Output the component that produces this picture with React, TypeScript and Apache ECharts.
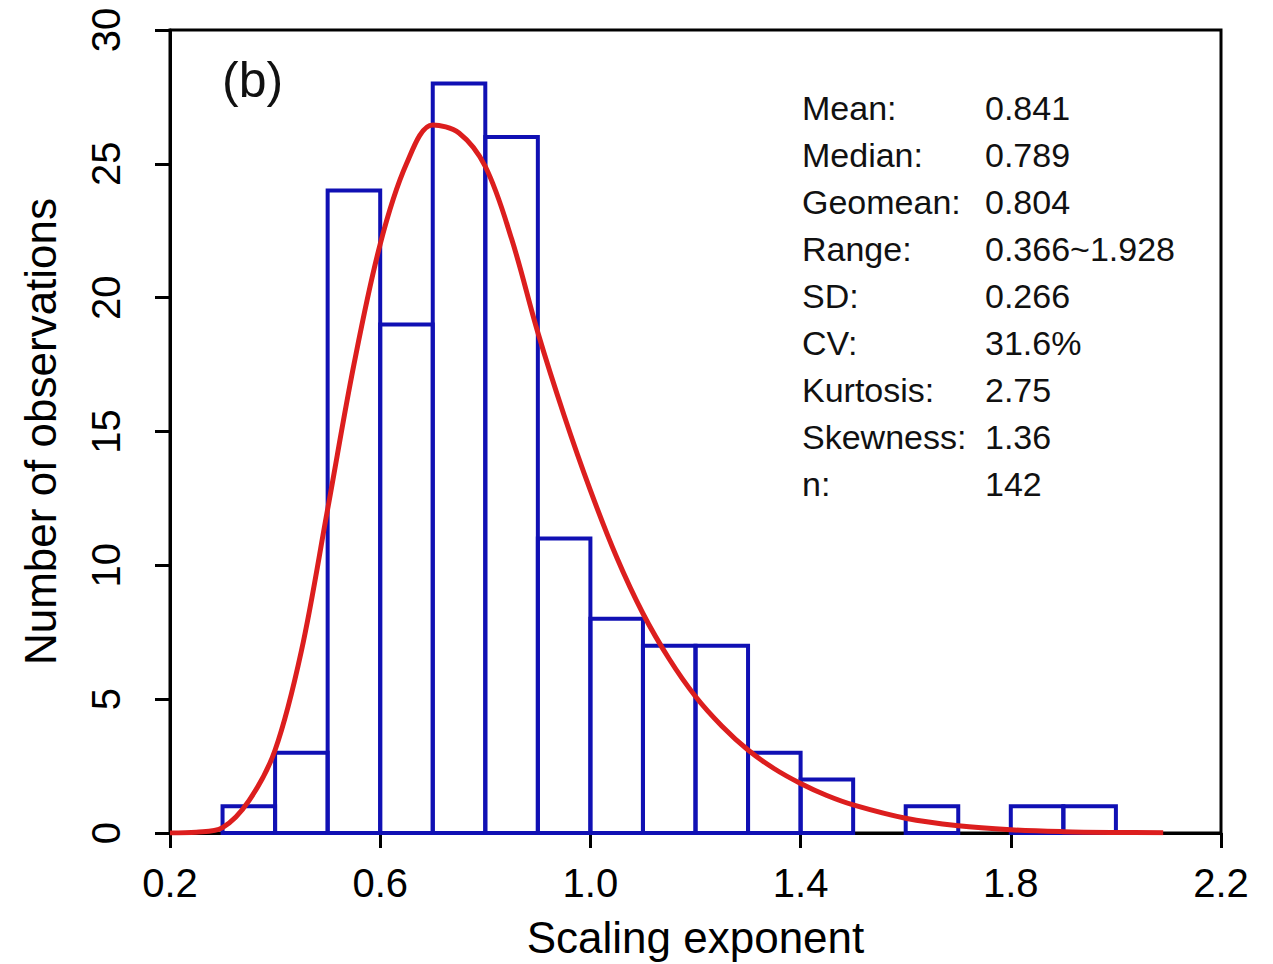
import React, { useEffect, useRef } from "react";
import * as echarts from "echarts";

// Histogram bins (lower edges), width 0.1
const binLower = [0.3, 0.4, 0.5, 0.6, 0.7, 0.8, 0.9, 1.0, 1.1, 1.2, 1.3, 1.4, 1.5, 1.6, 1.7, 1.8, 1.9];
const binWidth = 0.1;
const binCounts = [1, 3, 24, 19, 28, 26, 11, 8, 7, 7, 3, 2, 0, 1, 0, 1, 1];

// Fitted density curve
const curveX = [0.2, 0.25, 0.3, 0.35, 0.4, 0.45, 0.5, 0.55, 0.6, 0.65, 0.7, 0.75, 0.8, 0.85, 0.9, 0.95, 1.0, 1.05, 1.1, 1.15, 1.2, 1.25, 1.3, 1.35, 1.4, 1.45, 1.5, 1.6, 1.7, 1.8, 1.9, 2.0, 2.09];
const curveY = [0.0, 0.03, 0.2, 1.2, 3.1, 6.8, 12.1, 17.5, 22.0, 25.0, 26.45, 26.15, 24.9, 22.2, 18.7, 15.6, 12.8, 10.3, 8.2, 6.5, 5.1, 4.0, 3.1, 2.4, 1.85, 1.4, 1.05, 0.55, 0.27, 0.12, 0.05, 0.02, 0.01];

const xTickValues = [0.2, 0.6, 1.0, 1.4, 1.8, 2.2];

const statLabels = ["Mean:", "Median:", "Geomean:", "Range:", "SD:", "CV:", "Kurtosis:", "Skewness:", "n:"];
const statValues = ["0.841", "0.789", "0.804", "0.366~1.928", "0.266", "31.6%", "2.75", "1.36", "142"];

const FONT = "'Liberation Sans', Arial, Helvetica, sans-serif";

export default function App() {
  const ref = useRef<HTMLDivElement>(null);
  useEffect(() => {
    const chart = echarts.init(ref.current!, null, { renderer: "svg" });
    const histData = binLower.map((lo, i) => [lo, lo + binWidth, binCounts[i]]);
    const lineData = curveX.map((x, i) => [x, curveY[i]]);

    const statGraphics: any[] = [];
    statLabels.forEach((lab, i) => {
      const y = 110 + i * 47;
      statGraphics.push({
        type: "text",
        left: 802,
        top: y - 19,
        style: { text: lab, font: `34px ${FONT}`, fill: "#111" },
        z: 100,
      });
      statGraphics.push({
        type: "text",
        left: 985,
        top: y - 19,
        style: { text: statValues[i], font: `34px ${FONT}`, fill: "#111" },
        z: 100,
      });
    });

    chart.setOption({
      animation: false,
      backgroundColor: "#fff",
      grid: {
        left: 170,
        right: 52,
        top: 30,
        bottom: 130,
        show: true,
        borderColor: "#000",
        borderWidth: 3,
        backgroundColor: "transparent",
      },
      xAxis: {
        type: "value",
        min: 0.2,
        max: 2.2,
        name: "Scaling exponent",
        nameLocation: "middle",
        nameGap: 82,
        nameTextStyle: { fontSize: 44, fontFamily: FONT, color: "#000" },
        axisLine: { show: true, onZero: false, lineStyle: { color: "#000", width: 3 } },
        axisTick: { show: true, length: 15, lineStyle: { color: "#000", width: 3 }, customValues: xTickValues },
        axisLabel: {
          fontSize: 40,
          fontFamily: FONT,
          color: "#000",
          margin: 30,
          customValues: xTickValues,
          formatter: (v: number) => v.toFixed(1),
        },
        splitLine: { show: false },
      },
      yAxis: {
        type: "value",
        min: 0,
        max: 30,
        interval: 5,
        name: "Number of observations",
        nameLocation: "middle",
        nameGap: 108,
        nameTextStyle: { fontSize: 44, fontFamily: FONT, color: "#000" },
        axisLine: { show: true, lineStyle: { color: "#000", width: 3 } },
        axisTick: { show: true, length: 15, lineStyle: { color: "#000", width: 3 } },
        axisLabel: { fontSize: 40, fontFamily: FONT, color: "#000", rotate: 90, margin: 44 },
        splitLine: { show: false },
      },
      graphic: [
        {
          type: "text",
          left: 222,
          top: 55,
          style: { text: "(b)", font: `50px ${FONT}`, fill: "#111" },
          z: 100,
        },
        ...statGraphics,
      ],
      series: [
        {
          type: "custom",
          data: histData,
          encode: { x: [0, 1], y: 2 },
          z: 2,
          renderItem: (params: any, api: any) => {
            const lo = api.value(0);
            const hi = api.value(1);
            const c = api.value(2);
            if (!c) return null;
            const p1 = api.coord([lo, c]);
            const p2 = api.coord([hi, 0]);
            return {
              type: "rect",
              shape: { x: p1[0], y: p1[1], width: p2[0] - p1[0], height: p2[1] - p1[1] },
              style: { fill: "none", stroke: "#1010b4", lineWidth: 4 },
            };
          },
        },
        {
          type: "line",
          data: lineData,
          smooth: 0.35,
          showSymbol: false,
          symbol: "none",
          z: 5,
          lineStyle: { color: "#dc1e1e", width: 5 },
        },
      ],
    });
    return () => chart.dispose();
  }, []);
  return (
    <div
      ref={ref}
      style={{ position: "fixed", left: 0, top: 0, width: 1273, height: 964, background: "#fff" }}
    />
  );
}
